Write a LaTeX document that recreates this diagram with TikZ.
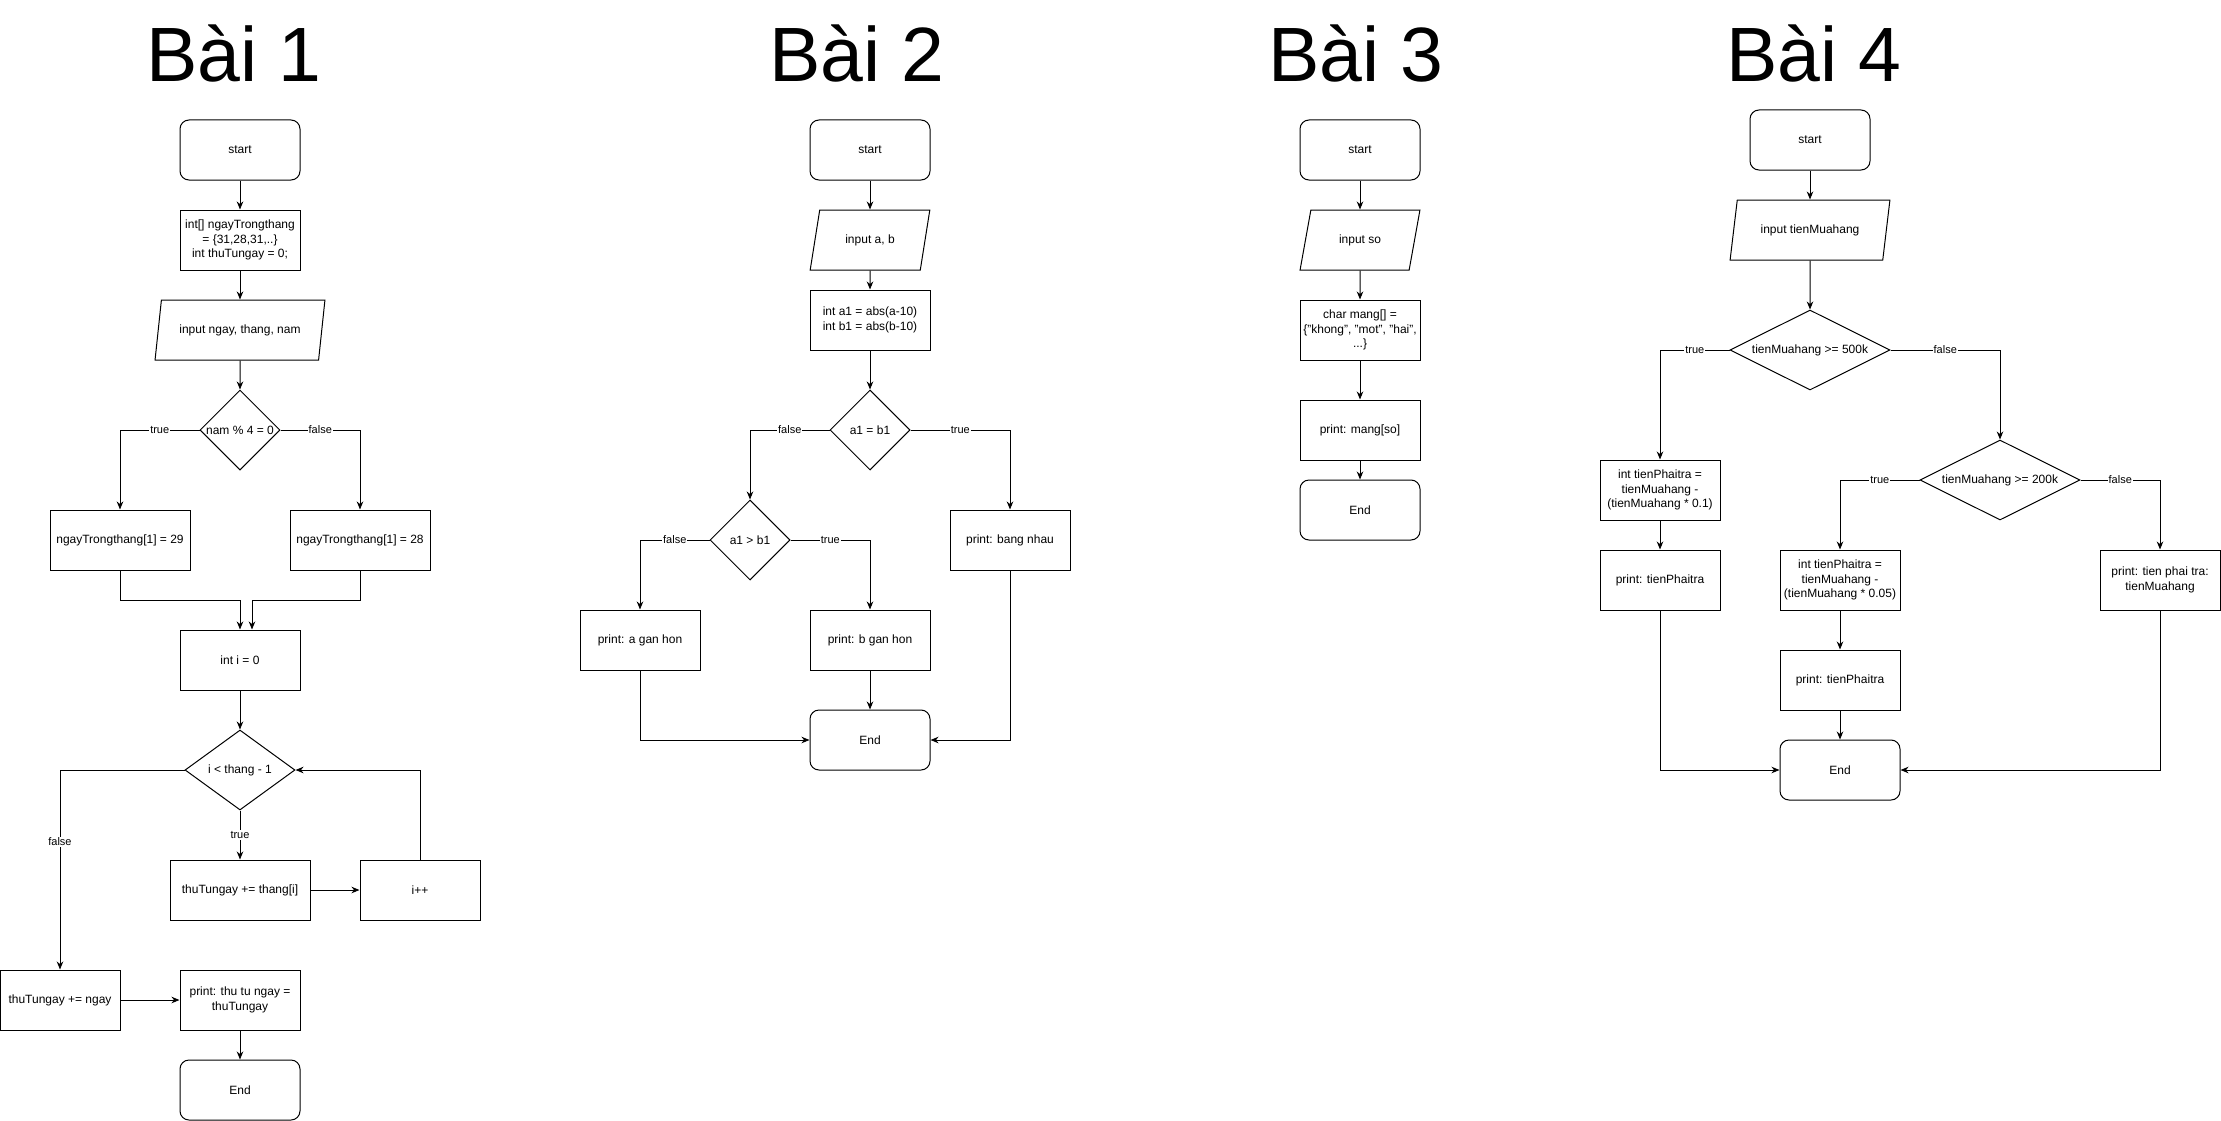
\documentclass[tikz,border=0pt]{standalone}
\usepackage{fontspec}
\setmainfont{Liberation Sans}
\usetikzlibrary{shapes.geometric,arrows.meta}

\begin{document}
\begin{tikzpicture}[x=1pt, y=-1pt, line width=1pt, >={Stealth[length=8pt,width=6.5pt,inset=2.5pt]},
    shapebox/.style={draw, align=center, font=\fontsize{12}{14.4}\selectfont, minimum width=120pt, minimum height=60pt, inner sep=2pt},
    term/.style={shapebox, rectangle, rounded corners=9pt},
    process/.style={shapebox, rectangle},
    io/.style={shapebox, trapezium, trapezium left angle=71.57, trapezium right angle=108.43, trapezium stretches=true},
    decision/.style={shapebox, diamond, inner sep=0pt, minimum height=80pt},
    widedecision/.style={decision, aspect=2, minimum width=160pt},
    lbl/.style={fill=white, inner sep=1pt, font=\fontsize{11}{13}\selectfont},
    heading/.style={anchor=base, font=\fontsize{77}{80}\selectfont}]
    \useasboundingbox[fill=white] (0,0) rectangle (2221,1121);

    \node[heading] (h1) at (234,82) {Bài 1};
    \node[heading] (h2) at (857,82) {Bài 2};
    \node[heading] (h3) at (1356,82) {Bài 3};
    \node[heading] (h4) at (1814,82) {Bài 4};

    \node[term] (st1) at (240,150) {start};
    \node[process] (init1) at (240,240) {int[] ngayTrongthang\\= \{31,28,31,..\}\\int thuTungay = 0;};
    \node[io, minimum width=170pt] (in1) at (240,330) {input ngay, thang, nam};
    \node[decision, minimum width=80pt] (d1) at (240,430) {nam \% 4 = 0};
    \node[process, minimum width=140pt] (a29) at (120,540) {ngayTrongthang[1] = 29};
    \node[process, minimum width=140pt] (a28) at (360,540) {ngayTrongthang[1] = 28};
    \node[process] (i0) at (240,660) {int i = 0};
    \node[decision, minimum width=110pt] (d2) at (240,770) {i < thang - 1};
    \node[process, minimum width=140pt] (add1) at (240,890) {thuTungay += thang[i]};
    \node[process] (inc) at (420,890) {i++};
    \node[process] (addn) at (60,1000) {thuTungay += ngay};
    \node[process] (pr1) at (240,1000) {print: thu tu ngay =\\thuTungay};
    \node[term] (end1) at (240,1090) {End};

    \draw[->] (st1) -- (init1);
    \draw[->] (init1) -- (in1);
    \draw[->] (in1) -- (d1);
    \draw[->] (d1.west) -| node[lbl,pos=0.25]{true} (a29.north);
    \draw[->] (d1.east) -| node[lbl,pos=0.25]{false} (a28.north);
    \draw[->] (a29.south) -- ++(0,30) -| (i0.north);
    \draw[->] (a28.south) -- ++(0,30) -| ([xshift=12pt]i0.north);
    \draw[->] (i0) -- (d2);
    \draw[->] (d2) -- node[lbl]{true} (add1);
    \draw[->] (add1) -- (inc);
    \draw[->] (inc.north) |- (d2.east);
    \draw[->] (d2.west) -| node[lbl,pos=0.68]{false} (addn.north);
    \draw[->] (addn) -- (pr1);
    \draw[->] (pr1) -- (end1);

    \node[term] (st2) at (870,150) {start};
    \node[io] (in2) at (870,240) {input a, b};
    \node[process] (ab) at (870,320) {int a1 = abs(a-10)\\int b1 = abs(b-10)};
    \node[decision, minimum width=80pt] (eq) at (870,430) {a1 = b1};
    \node[decision, minimum width=80pt] (gt) at (750,540) {a1 > b1};
    \node[process] (pbn) at (1010,540) {print: bang nhau};
    \node[process] (pa) at (640,640) {print: a gan hon};
    \node[process] (pb) at (870,640) {print: b gan hon};
    \node[term] (end2) at (870,740) {End};

    \draw[->] (st2) -- (in2);
    \draw[->] (in2) -- (ab);
    \draw[->] (ab) -- (eq);
    \draw[->] (eq.west) -| node[lbl,pos=0.25]{false} (gt.north);
    \draw[->] (eq.east) -| node[lbl,pos=0.25]{true} (pbn.north);
    \draw[->] (gt.west) -| node[lbl,pos=0.25]{false} (pa.north);
    \draw[->] (gt.east) -| node[lbl,pos=0.25]{true} (pb.north);
    \draw[->] (pb) -- (end2);
    \draw[->] (pa.south) |- (end2.west);
    \draw[->] (pbn.south) |- (end2.east);

    \node[term] (st3) at (1360,150) {start};
    \node[io] (in3) at (1360,240) {input so};
    \node[process] (mang) at (1360,330) {char mang[] =\\\{"khong", "mot", "hai",\\...\}};
    \node[process] (pm) at (1360,430) {print: mang[so]};
    \node[term] (end3) at (1360,510) {End};

    \draw[->] (st3) -- (in3);
    \draw[->] (in3) -- (mang);
    \draw[->] (mang) -- (pm);
    \draw[->] (pm) -- (end3);

    \node[term] (st4) at (1810,140) {start};
    \node[io, minimum width=160pt] (in4) at (1810,230) {input tienMuahang};
    \node[widedecision] (d500) at (1810,350) {tienMuahang >= 500k};
    \node[process] (c01) at (1660,490) {int tienPhaitra =\\tienMuahang -\\(tienMuahang * 0.1)};
    \node[process] (p01) at (1660,580) {print: tienPhaitra};
    \node[widedecision] (d200) at (2000,480) {tienMuahang >= 200k};
    \node[process] (c005) at (1840,580) {int tienPhaitra =\\tienMuahang -\\(tienMuahang * 0.05)};
    \node[process] (p005) at (1840,680) {print: tienPhaitra};
    \node[term] (end4) at (1840,770) {End};
    \node[process] (ptr) at (2160,580) {print: tien phai tra:\\tienMuahang};

    \draw[->] (st4) -- (in4);
    \draw[->] (in4) -- (d500);
    \draw[->] (d500.west) -| node[lbl,pos=0.25]{true} (c01.north);
    \draw[->] (d500.east) -| node[lbl,pos=0.25]{false} (d200.north);
    \draw[->] (c01) -- (p01);
    \draw[->] (d200.west) -| node[lbl,pos=0.25]{true} (c005.north);
    \draw[->] (d200.east) -| node[lbl,pos=0.25]{false} (ptr.north);
    \draw[->] (c005) -- (p005);
    \draw[->] (p005) -- (end4);
    \draw[->] (p01.south) |- (end4.west);
    \draw[->] (ptr.south) |- (end4.east);
\end{tikzpicture}
\end{document}
